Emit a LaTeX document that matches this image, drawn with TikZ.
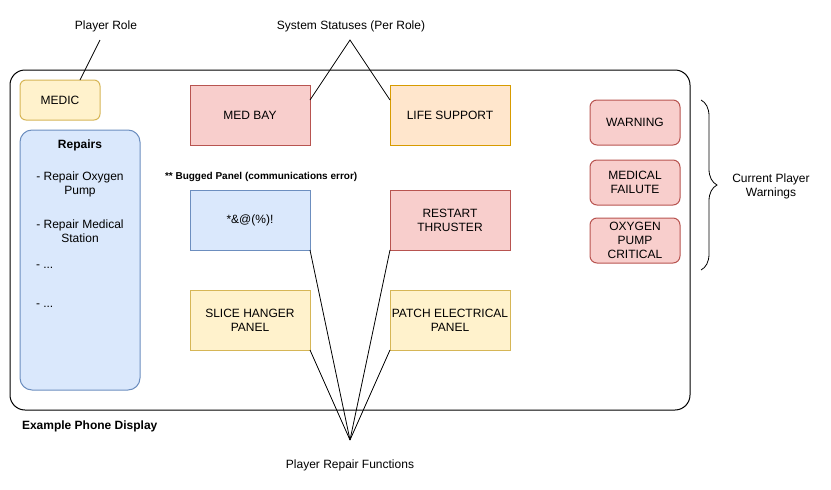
\documentclass[tikz,border=0pt]{standalone}
\usepackage{fontspec}
\setmainfont{Liberation Sans}
\usetikzlibrary{calc,decorations.pathreplacing}
\definecolor{yfill}{HTML}{FFF2CC}\definecolor{ydraw}{HTML}{D6B656}
\definecolor{bfill}{HTML}{DAE8FC}\definecolor{bdraw}{HTML}{6C8EBF}
\definecolor{rfill}{HTML}{F8CECC}\definecolor{rdraw}{HTML}{B85450}
\definecolor{ofill}{HTML}{FFE6CC}\definecolor{odraw}{HTML}{D79B00}
\begin{document}
\begin{tikzpicture}[x=1pt,y=-1pt,
  every node/.style={font=\fontsize{12}{14}\selectfont, inner sep=0pt, outer sep=0pt, align=center},
  box/.style={draw, line width=1pt, minimum width=120pt, minimum height=60pt},
  ybox/.style={box, fill=yfill, draw=ydraw},
  bbox/.style={box, fill=bfill, draw=bdraw},
  rbox/.style={box, fill=rfill, draw=rdraw},
  obox/.style={box, fill=ofill, draw=odraw},
  wbox/.style={rbox, rounded corners=7pt, minimum width=90pt, minimum height=45pt},
  conn/.style={draw, line width=0.8pt},
  lbl/.style={text=black}]
\useasboundingbox (0,0) rectangle (831,490);
% outer phone display
\draw[line width=1pt, rounded corners=15pt] (10,70) rectangle (690,410);
\node[anchor=west, font=\bfseries\fontsize{12}{14}\selectfont] (phone) at (22,426) {Example Phone Display};
% left column
\node[ybox, rounded corners=6pt, minimum width=80pt, minimum height=40pt] (medic) at (60,100) {MEDIC};
\node[bbox, rounded corners=12pt, minimum width=120pt, minimum height=260pt] (repairs) at (80,260) {};
\node[font=\bfseries\fontsize{12}{14}\selectfont] (rtitle) at (80,145) {Repairs};
\node (r1) at (80,184) {- Repair Oxygen\\Pump};
\node (r2) at (80,231) {- Repair Medical\\Station};
\node[anchor=west] (r3) at (36,267) {- ...};
\node[anchor=west] (r4) at (36,306) {- ...};
% panels
\node[rbox] (medbay) at (250,115) {MED BAY};
\node[obox] (life) at (450,115) {LIFE SUPPORT};
\node[anchor=west, font=\bfseries\fontsize{10}{12}\selectfont] (bugnote) at (165,177) {** Bugged Panel (communications error)};
\node[bbox] (bugged) at (250,220) {*\&@(\%)!};
\node[rbox] (restart) at (450,220) {RESTART\\THRUSTER};
\node[ybox] (slice) at (250,320) {SLICE HANGER\\PANEL};
\node[ybox] (patch) at (450,320) {PATCH ELECTRICAL\\PANEL};
% warnings
\node[wbox] (warn) at (635,122.5) {WARNING};
\node[wbox] (medfail) at (635,182.5) {MEDICAL\\FAILUTE};
\node[wbox] (oxy) at (635,240.5) {OXYGEN\\PUMP\\CRITICAL};
% brace
\draw[line width=0.8pt, decorate, decoration={brace, amplitude=16pt}] (701,100) -- (701,270);
\node (cpw) at (771,186) {Current Player\\Warnings};
% labels
\node (prole) at (106,26) {Player Role};
\node (sstat) at (351,26) {System Statuses (Per Role)};
\node (prf) at (350,465) {Player Repair Functions};
% connectors
\coordinate (pr) at (100,40);
\draw[conn] (pr) -- ($(medic.north)+(20,0)$);
\coordinate (ss) at (350,40);
\draw[conn] ($(medbay.north east)+(0,15)$) -- (ss) -- ($(life.north west)+(0,15)$);
\coordinate (rf) at (350,440);
\draw[conn] (bugged.south east) -- (rf);
\draw[conn] (restart.south west) -- (rf);
\draw[conn] (slice.south east) -- (rf);
\draw[conn] (patch.south west) -- (rf);
\end{tikzpicture}
\end{document}
